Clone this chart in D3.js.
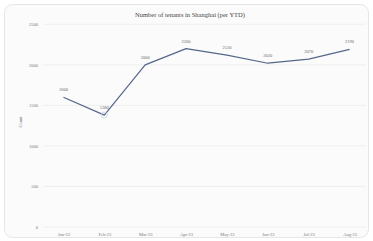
<!DOCTYPE html>
<html><head><meta charset="utf-8">
<script src="https://cdn.jsdelivr.net/npm/d3@7"></script>
<style>
html,body{margin:0;padding:0;background:#ffffff;}
svg{display:block;}
</style></head>
<body>
<svg id="chart" width="373" height="241"></svg>
<script>
const categories = ["Jan-23","Feb-23","Mar-23","Apr-23","May-23","Jun-23","Jul-23","Aug-23"];
const values = [1600, 1380, 2000, 2200, 2120, 2020, 2070, 2190];
const yTicks = [0, 500, 1000, 1500, 2000, 2500];
const title = "Number of tenants in Shanghai (per YTD)";
const yTitle = "Count";

const svg = d3.select("#chart");
const W = 373, H = 241;
const m = {left: 43, right: 3, top: 24, bottom: 14};

svg.append("rect").attr("x", 4.5).attr("y", 4.5).attr("width", W - 9).attr("height", H - 8)
  .attr("rx", 8).attr("fill", "#fbfbfb").attr("stroke", "#e6e6e6");

const x = d3.scalePoint().domain(categories).range([m.left, W - m.right]).padding(0.5);
const y = d3.scaleLinear().domain([0, 2500]).range([227, 24.3]);

svg.append("g").selectAll("line").data(yTicks).join("line")
  .attr("x1", m.left).attr("x2", 366)
  .attr("y1", d => y(d)).attr("y2", d => y(d))
  .attr("stroke", "#ececec").attr("stroke-width", 0.8);

const yAxis = svg.append("g").attr("transform", `translate(${m.left},0)`)
  .call(d3.axisLeft(y).tickValues(yTicks).tickFormat(d3.format("d")).tickSize(0).tickPadding(5));
yAxis.select(".domain").remove();
yAxis.selectAll("text").attr("font-family", "Liberation Serif, serif").attr("font-size", 4.5).attr("fill", "#777");

const xAxis = svg.append("g").attr("transform", `translate(0,229)`)
  .call(d3.axisBottom(x).tickSize(0).tickPadding(4));
xAxis.select(".domain").remove();
xAxis.selectAll("text").attr("font-family", "Liberation Serif, serif").attr("font-size", 4.5).attr("fill", "#777");

svg.append("text").attr("x", 190).attr("y", 17).attr("text-anchor", "middle")
  .attr("font-family", "Liberation Serif, serif").attr("font-size", 6.5).attr("fill", "#444").text(title);

svg.append("text").attr("transform", `translate(22,122) rotate(-90)`).attr("text-anchor", "middle")
  .attr("font-family", "Liberation Serif, serif").attr("font-size", 4.5).attr("fill", "#777").text(yTitle);

const line = d3.line().x((d, i) => x(categories[i])).y(d => y(d));
svg.append("path").datum(values).attr("d", line).attr("fill", "none")
  .attr("stroke", "#56668a").attr("stroke-width", 1.2).attr("stroke-linejoin", "round");

const minI = values.indexOf(d3.min(values));
svg.append("circle").attr("cx", x(categories[minI])).attr("cy", y(values[minI])).attr("r", 3)
  .attr("fill", "none").attr("stroke", "#c8cfe0").attr("stroke-width", 0.8);

svg.append("g").selectAll("text").data(values).join("text")
  .attr("x", (d, i) => x(categories[i])).attr("y", (d) => y(d) - 6)
  .attr("text-anchor", "middle").attr("font-family", "Liberation Serif, serif")
  .attr("font-size", 4.5).attr("fill", "#666").text(d => d);
</script>
</body></html>
